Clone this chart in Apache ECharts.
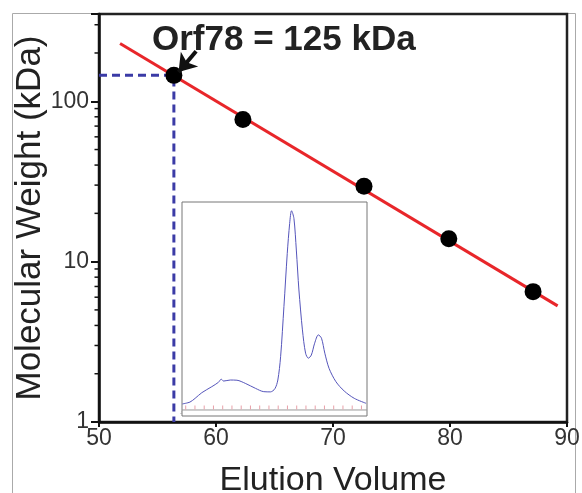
<!DOCTYPE html>
<html>
<head>
<meta charset="utf-8">
<script src="https://cdn.jsdelivr.net/npm/echarts@6/dist/echarts.min.js"></script>
<style>
html,body{margin:0;padding:0;background:#fff;}
#c{width:582px;height:493px;}
</style>
</head>
<body>
<div id="c"></div>
<script>
// ---- data ----
const massX = [56.4, 62.3, 72.65, 79.9, 87.1];
const massY = [145, 77, 29.5, 13.9, 6.5];
const fitX = [51.8, 89.2];
const fitY = [229, 5.3];
const orfVolume = 56.4;
const orfMass = 145;
const arrowFrom = [58.3, 205];
const arrowTo = [56.8, 152];
const annotation = 'Orf78 = 125 kDa';
const xTitle = 'Elution Volume';
const yTitle = 'Molecular Weight (kDa)';
const yLabels = [1, 10, 100];
// inset chromatogram
const insetX = [-4.8,-0.7,2.1,5.7,11.1,14.7,16.2,17.5,21.1,24.7,29.2,34.7,39.2,42.8,45.2,46.8,48.3,50.1,51.9,53.2,54.2,55.5,56.8,58.2,60.1,61.8,63.3,64.9,66.7,68.7,70.4,72.2,74.5,78.2,82.7,88.1,94.5];
const insetY = [2.9,3.8,5.6,8.3,11.2,13.3,14.8,13.9,14.4,14.3,12.8,10.4,8.8,8.7,10.2,14.4,25.6,49.7,75.3,89.7,95.8,92.1,76.9,57.7,38.5,27.3,24.9,26.4,32.1,36.1,34.5,27.3,20.0,13.6,9.1,5.6,3.2];
const fractionX = [-3, 2, 7, 12, 17, 22, 27, 32, 37, 42, 47, 52, 57, 62, 67, 72, 77, 82, 87, 92];
const fractionLevel = 1.2;

const FONT = 'Liberation Sans, Arial, Helvetica, sans-serif';
const chart = echarts.init(document.getElementById('c'), null, {renderer: 'canvas'});

const option = {
  animation: false,
  backgroundColor: '#fff',
  grid: [
    {left: 99, top: 14, right: 15, bottom: 71, show: true, borderColor: '#222', borderWidth: 2.5, backgroundColor: '#fff', containLabel: false, outerBoundsMode: 'none'},
    {left: 182, top: 202, right: 215, bottom: 77, show: true, borderColor: '#777', borderWidth: 1, backgroundColor: '#fff', z: 5, containLabel: false, outerBoundsMode: 'none'}
  ],
  xAxis: [
    {
      gridIndex: 0, type: 'value', min: 50, max: 90, interval: 10,
      axisLine: {show: true, lineStyle: {color: '#111', width: 2.5}},
      axisTick: {show: true, inside: false, length: 5, lineStyle: {color: '#111', width: 2}},
      axisLabel: {fontSize: 23, color: '#333', fontFamily: FONT, margin: 5},
      splitLine: {show: false},
      name: xTitle, nameLocation: 'middle', nameGap: 42,
      nameTextStyle: {fontSize: 34, color: '#222', fontFamily: FONT}
    },
    {
      gridIndex: 1, type: 'value', min: -5, max: 95, interval: 10,
      axisLine: {show: false},
      axisTick: {show: false},
      axisLabel: {inside: true, fontSize: 4, color: '#777', margin: 1, fontFamily: FONT,
        showMinLabel: true, showMaxLabel: false},
      splitLine: {show: false}
    }
  ],
  yAxis: [
    {
      gridIndex: 0, type: 'log', logBase: 10, min: 1, max: 350,
      axisLine: {show: true, lineStyle: {color: '#111', width: 2.5}},
      axisTick: {show: true, inside: false, length: 8, lineStyle: {color: '#111', width: 2}},
      axisLabel: {fontSize: 23, color: '#333', fontFamily: FONT, margin: 10,
        formatter: function (v) { return yLabels.indexOf(Math.round(v)) >= 0 && Math.abs(v - Math.round(v)) < 1e-6 ? String(Math.round(v)) : ''; }},
      splitLine: {show: false},
      minorTick: {show: false},
      name: yTitle, nameLocation: 'middle', nameGap: 51, nameRotate: 90, nameMoveOverlap: false,
      nameTextStyle: {fontSize: 35, color: '#222', fontFamily: FONT}
    },
    {
      gridIndex: 1, type: 'value', min: -2.9, max: 100,
      show: false, splitLine: {show: false}
    }
  ],
  series: [
    {
      type: 'line', xAxisIndex: 0, yAxisIndex: 0,
      data: fitX.map((x, i) => [x, fitY[i]]),
      symbol: 'none', lineStyle: {color: '#e8262a', width: 3}, z: 2
    },
    {
      type: 'line', xAxisIndex: 0, yAxisIndex: 0,
      data: [[50, orfMass], [orfVolume, orfMass], [orfVolume, 1]],
      symbol: 'none', lineStyle: {color: '#3b3ba6', width: 3, type: [8, 5]}, z: 3
    },
    {
      type: 'scatter', xAxisIndex: 0, yAxisIndex: 0,
      data: massX.map((x, i) => [x, massY[i]]),
      symbol: 'circle', symbolSize: 17, itemStyle: {color: '#000', opacity: 1}, z: 4,
      markLine: {
        silent: true, symbol: ['none', 'arrow'], symbolSize: [17, 17],
        lineStyle: {color: '#111', width: 4, type: 'solid', opacity: 1},
        label: {show: false},
        data: [[{coord: arrowFrom}, {coord: arrowTo}]]
      }
    },
    {
      type: 'line', xAxisIndex: 1, yAxisIndex: 1,
      data: [[-5, 0], [95, 0]], symbol: 'none',
      lineStyle: {color: '#999', width: 1}, z: 6
    },
    {
      type: 'scatter', xAxisIndex: 1, yAxisIndex: 1,
      data: fractionX.map(x => [x, fractionLevel]),
      symbol: 'rect', symbolSize: [1, 4], itemStyle: {color: '#e8a0a8', opacity: 1}, z: 6
    },
    {
      type: 'line', xAxisIndex: 1, yAxisIndex: 1,
      data: insetX.map((x, i) => [x, insetY[i]]),
      symbol: 'none', smooth: 0.3, lineStyle: {color: '#5555bb', width: 1}, z: 7
    }
  ],
  graphic: [
    {type: 'rect', shape: {x: 12.5, y: 13.5, width: 563, height: 490}, style: {fill: 'none', stroke: '#aaa', lineWidth: 1}, z: -10, silent: true},
    {type: 'text', x: 152, y: 40, style: {text: annotation, font: 'bold 35px ' + FONT, fill: '#222', textVerticalAlign: 'middle'}, z: 20}
  ]
};
chart.setOption(option);

// minor ticks on the log axis at 2..9 of each decade
const minor = [];
const x0 = chart.convertToPixel({xAxisIndex: 0}, 50);
[1, 10, 100].forEach(d => {
  for (let k = 2; k <= 9; k++) {
    const v = k * d;
    if (v >= 350) continue;
    const y = chart.convertToPixel({yAxisIndex: 0}, v);
    minor.push({type: 'line', shape: {x1: x0 - 4.5, y1: y, x2: x0, y2: y}, style: {stroke: '#111', lineWidth: 1.5}, z: 10, silent: true});
  }
});
chart.setOption({graphic: option.graphic.concat(minor)});
</script>
</body>
</html>
